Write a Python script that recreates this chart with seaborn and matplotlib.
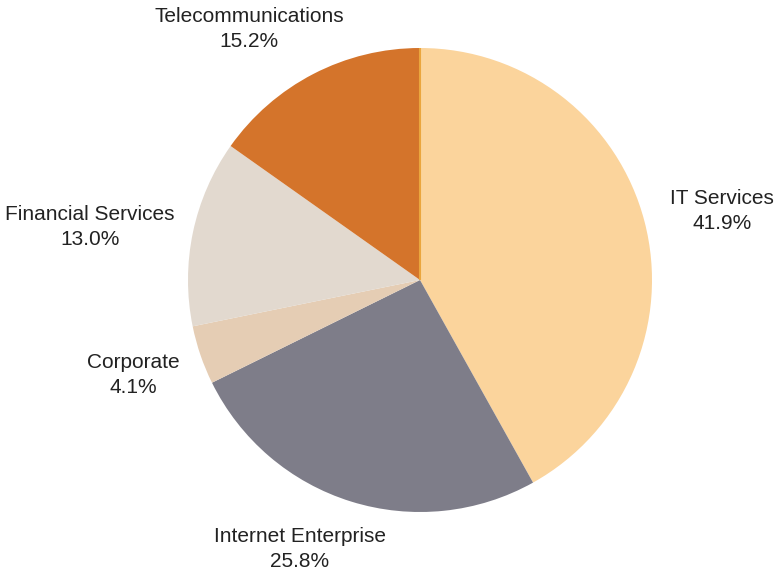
import numpy as np
import matplotlib
matplotlib.use("Agg")
import matplotlib.pyplot as plt
import seaborn as sns

# Revenue share by business segment
segments = ["IT Services", "Internet Enterprise", "Corporate",
            "Financial Services", "Telecommunications"]
shares = [41.9, 25.8, 4.1, 13.0, 15.2]

segment_colors = ["#FBD49C", "#7E7D89", "#E5CDB4", "#E2D9CF", "#D4742B"]

# Label placement: distance from centre (in radii) and angular nudge (deg)
label_radius = [1.335, 1.27, 1.30, 1.44, 1.31]
label_nudge = [-1.7, -6.8, -0.6, 2.8, 6.9]

sns.set_theme(style="white")
plt.rcParams["font.family"] = ["Liberation Sans", "DejaVu Sans"]

fig = plt.figure(figsize=(7.77, 5.71), dpi=100)
ax = fig.add_axes([0, 0, 1, 1])

palette = sns.color_palette(segment_colors)
wedges, _ = ax.pie(shares, colors=palette, startangle=90, counterclock=False,
                   radius=1.0, center=(0, 0), normalize=True,
                   wedgeprops=dict(linewidth=0, antialiased=True))

# thin accent along the start edge of the first wedge
t = np.deg2rad(wedges[0].theta2)
ax.plot([0, np.cos(t)], [0, np.sin(t)], color="#EAA63E", lw=1.5,
        solid_capstyle="butt", zorder=3)

for w, name, val, r, nudge in zip(wedges, segments, shares,
                                  label_radius, label_nudge):
    mid = np.deg2rad((w.theta1 + w.theta2) / 2 + nudge)
    ax.text(r * np.cos(mid), r * np.sin(mid), f"{name}\n{val:.1f}%",
            ha="center", va="center", fontsize=15, color="#222222",
            linespacing=1.38)

# pixel-consistent limits: centre at (420, 280) px, radius 232 px
px = 232.0
ax.set_xlim(-420 / px, (777 - 420) / px)
ax.set_ylim(-(571 - 280) / px, 280 / px)
ax.set_aspect("auto")
ax.axis("off")

fig.savefig("out.png", dpi=100, facecolor="white")
